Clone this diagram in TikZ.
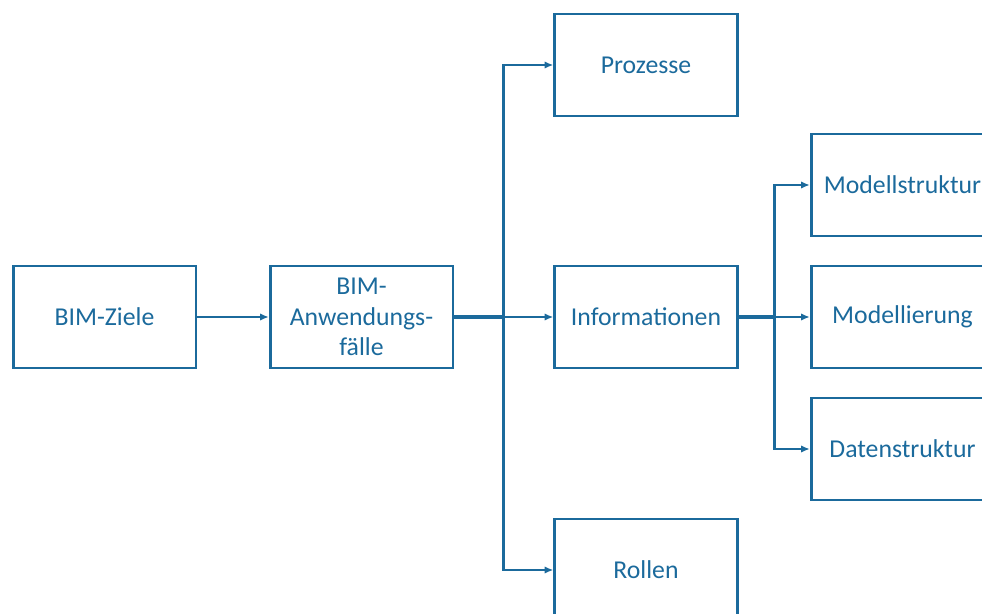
\documentclass[tikz,border=0pt]{standalone}
\usepackage{fontspec}
\setmainfont{Carlito}
\usetikzlibrary{arrows.meta,calc}
\definecolor{bimblue}{HTML}{1B6A9C}
\begin{document}
\begin{tikzpicture}[x=0.75pt,y=-0.75pt,
  box/.style={draw=bimblue,line width=2pt,minimum width=137pt,minimum height=76.5pt,
    align=center,text=bimblue,font=\fontsize{19.3}{23}\selectfont,inner sep=0pt},
  trunk/.style={draw=bimblue,line width=2.3pt},
  link/.style={draw=bimblue,line width=1.9pt,-{Latex[length=6.5pt,width=5.5pt]}}]
\useasboundingbox (0,0) rectangle (982,614);
\clip (0,0) rectangle (982,614);
\node[box] (ziele) at (104.5,317) {BIM-Ziele};
\node[box] (anw) at (361.5,317) {BIM-\\Anwendungs-\\fälle};
\node[box] (proz) at (646,65) {Prozesse};
\node[box] (info) at (646,317) {Informationen};
\node[box] (rol) at (646,570) {Rollen};
\node[box] (mstr) at (902.5,185) {Modellstruktur};
\node[box] (mod) at (902.5,317) {Modellierung};
\node[box] (dstr) at (902.5,449) {Datenstruktur};
\coordinate (t1) at ($(anw.east)!0.5!(info.west)$);
\coordinate (t2) at ($(info.east)!0.5!(mod.west)$);
\draw[link] (ziele) -- (anw);
\draw[trunk] (anw.east) -- (t1);
\draw[link] (t1) |- (proz.west);
\draw[link] (t1) -- (info.west);
\draw[link] (t1) |- (rol.west);
\draw[trunk] (info.east) -- (t2);
\draw[link] (t2) |- (mstr.west);
\draw[link] (t2) -- (mod.west);
\draw[link] (t2) |- (dstr.west);
\end{tikzpicture}
\end{document}
